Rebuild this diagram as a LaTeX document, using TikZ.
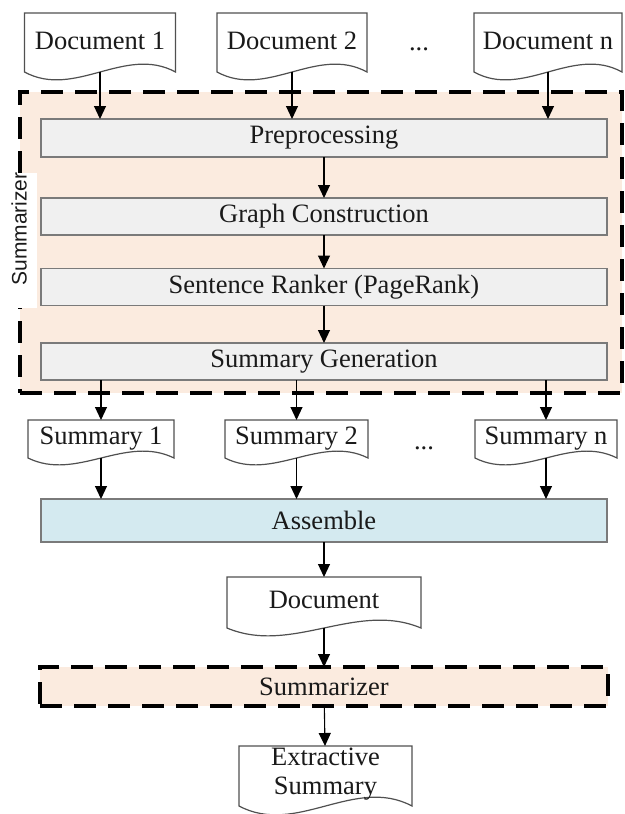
\documentclass[tikz,border=0pt]{standalone}
\usepackage{fontspec}
\setmainfont{Liberation Serif}
\newfontfamily\labelsans{Liberation Sans}
\usetikzlibrary{arrows.meta,calc}
\definecolor{peach}{HTML}{FBEBDF}
\definecolor{boxgray}{HTML}{F0F0F0}
\definecolor{boxline}{HTML}{7A7A7A}
\definecolor{assblue}{HTML}{D4EAF0}
\definecolor{docline}{HTML}{505050}
\definecolor{txt}{HTML}{1A1A1A}
\tikzset{
  x=1pt, y=-1pt,
  every node/.style={font=\fontsize{26.5}{29}\selectfont, text=txt, inner sep=0pt, outer sep=0pt},
  stagebox/.style={draw=boxline, line width=1.3pt, fill=boxgray, minimum width=566pt, minimum height=37pt},
  assbox/.style={draw=boxline, line width=1.3pt, fill=assblue, minimum width=566pt, minimum height=43pt},
  dashregion/.style={draw=black, line width=3.5pt, dash pattern=on 22pt off 12pt, fill=peach},
  docborder/.style={draw=docline, line width=1.2pt, fill=white, line join=miter},
  arr/.style={draw=black, line width=1.1pt, -{Triangle[length=13pt,width=12pt]}},
}
\newcommand{\docoutline}[2]{%
  \draw[docborder] (#1.north west) -- (#1.north east) -- (#1.south east)
    .. controls ($(#1.south west)!0.667!(#1.south east)+(0,-3.4*#2)$) and ($(#1.south west)!0.333!(#1.south east)+(0,3.4*#2)$) .. (#1.south west) -- cycle;}
\begin{document}
\begin{tikzpicture}
\useasboundingbox[fill=white] (0,0) rectangle (624,814);

% big summarizer region
\node[dashregion, minimum width=602pt, minimum height=301pt] (region) at (321,242.5) {};
\node[fill=white, minimum width=37pt, minimum height=135pt] (labbg) at (18.5,240.5) {};
\node[rotate=90, font=\labelsans\fontsize{21}{24}\selectfont] (lab) at (19,229) {Summarizer};

% stages
\node[stagebox, minimum height=38pt] (pre) at (324,138) {Preprocessing};
\node[stagebox] (gc) at (324,216.5) {Graph Construction};
\node[stagebox] (sr) at (324,287) {Sentence Ranker (PageRank)};
\node[stagebox] (sg) at (324,361.5) {Summary Generation};

% input documents
\node[minimum width=151pt, minimum height=59pt] (d1) at (100,42.5) {};
\node[minimum width=150pt, minimum height=59pt] (d2) at (292,42.5) {};
\node[minimum width=148pt, minimum height=59pt] (dn) at (548,42.5) {};
\docoutline{d1}{8}
\docoutline{d2}{8}
\docoutline{dn}{8}
\node (d1t) at (d1) {\raisebox{4pt}{Document 1}};
\node (d2t) at (d2) {\raisebox{4pt}{Document 2}};
\node (dnt) at (dn) {\raisebox{4pt}{Document n}};
\node[anchor=base] (dots1) at (419,50) {...};

% summaries
\node[minimum width=146pt, minimum height=38pt] (s1) at (101,439) {};
\node[minimum width=143pt, minimum height=38pt] (s2) at (296.5,439) {};
\node[minimum width=142pt, minimum height=38pt] (sn) at (546,439) {};
\docoutline{s1}{7}
\docoutline{s2}{7}
\docoutline{sn}{7}
\node (s1t) at (s1) {\raisebox{2pt}{Summary 1}};
\node (s2t) at (s2) {\raisebox{2pt}{Summary 2}};
\node (snt) at (sn) {\raisebox{2pt}{Summary n}};
\node[anchor=base] (dots2) at (424,449) {...};

% assemble and tail
\node[assbox] (asm) at (324,520.5) {Assemble};
\node[minimum width=194pt, minimum height=51pt] (doc) at (324,602.5) {};
\docoutline{doc}{8}
\node (doct) at (doc) {\raisebox{4.5pt}{Document}};
\node[dashregion, minimum width=568pt, minimum height=39pt] (sum2) at (324,686.5) {Summarizer};
\node[minimum width=173pt, minimum height=60pt] (ext) at (325.5,776) {};
\docoutline{ext}{9}
\node[align=center] (extt) at (325.5,774) {Extractive\\Summary};

% connectors
\draw[arr] (d1.south) -- (d1.south |- pre.north);
\draw[arr] (d2.south) -- (d2.south |- pre.north);
\draw[arr] (dn.south) -- (dn.south |- pre.north);
\draw[arr] (pre) -- (gc);
\draw[arr] (gc) -- (sr);
\draw[arr] (sr) -- (sg);
\draw[arr] (s1.north |- sg.south) -- (s1.north);
\draw[arr] (s2.north |- sg.south) -- (s2.north);
\draw[arr] (sn.north |- sg.south) -- (sn.north);
\draw[arr] (s1.south) -- (s1.south |- asm.north);
\draw[arr] (s2.south) -- (s2.south |- asm.north);
\draw[arr] (sn.south) -- (sn.south |- asm.north);
\draw[arr] (asm) -- (doc);
\draw[arr] (doc.south) -- (sum2.north);
\draw[arr] (sum2) -- (ext);
\end{tikzpicture}
\end{document}
